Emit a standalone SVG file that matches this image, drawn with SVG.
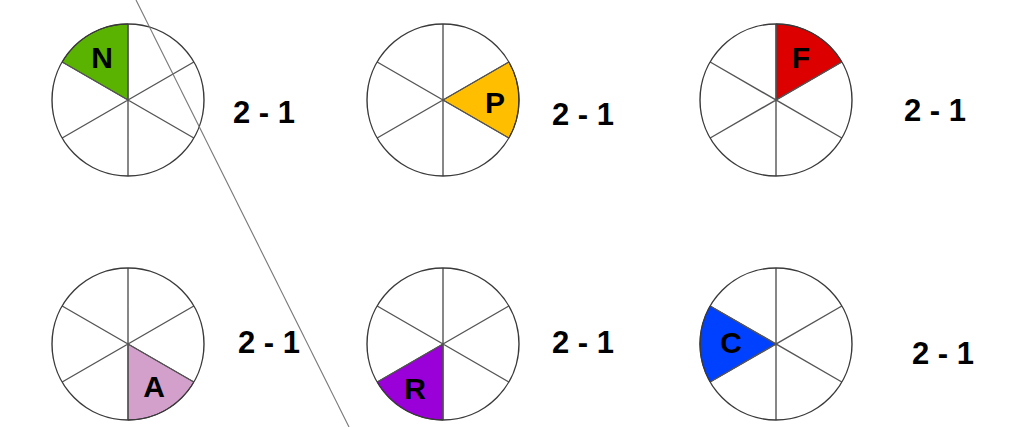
<svg xmlns="http://www.w3.org/2000/svg" xmlns:xlink="http://www.w3.org/1999/xlink" width="1017" height="427" viewBox="0 0 1017 427">
<style>
.bg{fill:#ffffff;stroke:none}
.spk{fill:none;stroke:#555555;stroke-width:1.4}
.rim{fill:none;stroke:#3a3a3a;stroke-width:1.4}
.sec{stroke:#333333;stroke-width:1}
.let{font-family:"Liberation Sans",Arial,sans-serif;font-weight:bold;font-size:30px;fill:#000;text-anchor:middle}
.lab{font-family:"Liberation Sans",Arial,sans-serif;font-weight:bold;font-size:31px;fill:#000}
</style>
<defs>
<g id="spokes">
<path class="spk" d="M0,-76V76M-65.82,-38L65.82,38M-65.82,38L65.82,-38"/>
<circle class="rim" r="76"/>
</g>
</defs>
<rect width="1017" height="427" fill="#ffffff"/>
<g id="node-N" transform="translate(128,100)">
<circle class="bg" r="76"/>
<path class="sec" fill="#5ab300" d="M0,0L-65.82,-38A76,76 0 0 1 0,-76Z"/>
<use xlink:href="#spokes"/>
<text class="let" x="-26" y="-32">N</text>
</g>
<g id="node-P" transform="translate(443,100)">
<circle class="bg" r="76"/>
<path class="sec" fill="#ffbf00" d="M0,0L65.82,-38A76,76 0 0 1 65.82,38Z"/>
<use xlink:href="#spokes"/>
<text class="let" x="52" y="13">P</text>
</g>
<g id="node-F" transform="translate(776,100)">
<circle class="bg" r="76"/>
<path class="sec" fill="#dd0000" d="M0,0L0,-76A76,76 0 0 1 65.82,-38Z"/>
<use xlink:href="#spokes"/>
<text class="let" x="25" y="-32">F</text>
</g>
<g id="node-A" transform="translate(128,344)">
<circle class="bg" r="76"/>
<path class="sec" fill="#d39fcb" d="M0,0L65.82,38A76,76 0 0 1 0,76Z"/>
<use xlink:href="#spokes"/>
<text class="let" x="26" y="53">A</text>
</g>
<g id="node-R" transform="translate(443,344)">
<circle class="bg" r="76"/>
<path class="sec" fill="#9a00d8" d="M0,0L0,76A76,76 0 0 1 -65.82,38Z"/>
<use xlink:href="#spokes"/>
<text class="let" x="-28" y="55">R</text>
</g>
<g id="node-C" transform="translate(776,344)">
<circle class="bg" r="76"/>
<path class="sec" fill="#0040ff" d="M0,0L-65.82,38A76,76 0 0 1 -65.82,-38Z"/>
<use xlink:href="#spokes"/>
<text class="let" x="-45" y="9">C</text>
</g>
<g id="labels">
<text class="lab" x="233" y="123">2 - 1</text>
<text class="lab" x="552" y="125">2 - 1</text>
<text class="lab" x="904" y="121">2 - 1</text>
<text class="lab" x="238" y="353">2 - 1</text>
<text class="lab" x="552" y="353">2 - 1</text>
<text class="lab" x="912" y="364">2 - 1</text>
</g>
<g id="connectors">
<line x1="136" y1="0" x2="349" y2="427" stroke="#777777" stroke-width="1.1"/>
</g>
</svg>
